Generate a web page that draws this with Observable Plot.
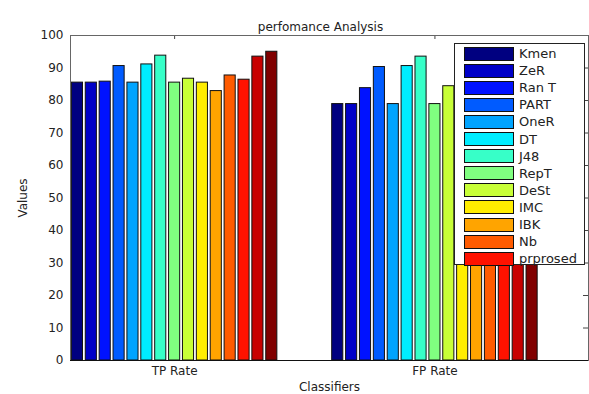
<!DOCTYPE html>
<html>
<head>
<meta charset="utf-8">
<script src="https://cdn.jsdelivr.net/npm/d3@7"></script>
<script src="https://cdn.jsdelivr.net/npm/@observablehq/plot@0.6"></script>
<style>
  body { margin: 0; background: #fff; }
  #wrap { position: relative; width: 589px; height: 394px; font-family: "DejaVu Sans", sans-serif; }
  #legend { position: absolute; left: 454px; top: 43px; width: 131px; height: 222px; background: #fff; border: 1px solid #222; box-sizing: border-box; }
  .item { position: absolute; left: 9px; height: 17px; display: flex; align-items: center; }
  .sw { width: 48px; height: 12px; border: 1px solid #111; box-sizing: content-box; }
  .lb { margin-left: 5px; font-size: 13px; color: #222; }
</style>
</head>
<body>
<div id="wrap"></div>
<script>
const title = "perfomance Analysis";
const groups = ["TP Rate", "FP Rate"];
const classifiers = ["Kmen", "ZeR", "Ran T", "PART", "OneR", "DT", "J48", "RepT", "DeSt", "IMC", "IBK", "Nb", "prprosed", "S14", "S15"];
const legendNames = ["Kmen", "ZeR", "Ran T", "PART", "OneR", "DT", "J48", "RepT", "DeSt", "IMC", "IBK", "Nb", "prprosed"];
const tpRate = [85.5, 85.5, 85.8, 90.6, 85.5, 91.1, 93.8, 85.5, 86.7, 85.5, 82.9, 87.7, 86.4, 93.5, 95.0];
const fpRate = [78.9, 78.9, 83.8, 90.3, 78.9, 90.6, 93.5, 78.9, 84.4, 78.9, 80.5, 84.0, 82.0, 89.0, 92.0];
const yTicks = [0, 10, 20, 30, 40, 50, 60, 70, 80, 90, 100];
const groupTicks = [1, 2];
const jetColors = ["#000080", "#0000C8", "#0012FF", "#005BFF", "#00A4FF", "#00EDFF", "#37FFC8", "#80FF80", "#C8FF37", "#FFED00", "#FFA400", "#FF5B00", "#FF1200", "#C80000", "#800000"];

const series = [tpRate, fpRate];
const n = classifiers.length;
const pitch = 0.8 / n;
const bw = pitch * 0.8;
const rows = [];
groups.forEach((g, gi) => {
  classifiers.forEach((c, si) => {
    const center = gi + 1 + (si - (n - 1) / 2) * pitch;
    rows.push({group: g, name: c, si, value: series[gi][si], x1: center - bw / 2, x2: center + bw / 2});
  });
});

const chart = Plot.plot({
  width: 589,
  height: 394,
  marginLeft: 70,
  marginRight: 1,
  marginTop: 35,
  marginBottom: 34,
  style: {fontFamily: "DejaVu Sans, sans-serif", fontSize: "12px", color: "#222", background: "#fff"},
  x: {domain: [0.6, 2.59]},
  y: {domain: [0, 100]},
  color: {domain: classifiers, range: jetColors},
  marks: [
    Plot.rectY(rows, {x1: "x1", x2: "x2", y: "value", fill: "name", stroke: "#111", strokeWidth: 1}),
    Plot.tickY(yTicks, {insetLeft: 513, stroke: "#444"}),
    Plot.tickX(groupTicks, {insetBottom: 321, stroke: "#444"}),
    Plot.frame({stroke: "#666"}),
    Plot.ruleY([0], {stroke: "#111"}),
    Plot.axisY({ticks: yTicks, tickSize: 0, tickPadding: 7, fontSize: 12, label: "Values", labelAnchor: "center", labelArrow: "none", labelOffset: 52}),
    Plot.axisX({ticks: groupTicks, tickFormat: d => groups[d - 1], tickSize: 0, tickPadding: 6, fontSize: 12, label: "Classifiers", labelAnchor: "center", labelArrow: "none", labelOffset: 30}),
    Plot.text([title], {frameAnchor: "top", dy: -13, dx: -9, fontSize: 12, fill: "#222"})
  ]
});

const wrap = document.getElementById("wrap");
wrap.appendChild(chart);
const legend = document.createElement("div");
legend.id = "legend";
legendNames.forEach((name, i) => {
  const item = document.createElement("div");
  item.className = "item";
  item.style.top = (1 + i * 17.1) + "px";
  const sw = document.createElement("div");
  sw.className = "sw";
  sw.style.background = jetColors[i];
  const lb = document.createElement("span");
  lb.className = "lb";
  lb.textContent = name;
  item.appendChild(sw);
  item.appendChild(lb);
  legend.appendChild(item);
});
wrap.appendChild(legend);
</script>
</body>
</html>
